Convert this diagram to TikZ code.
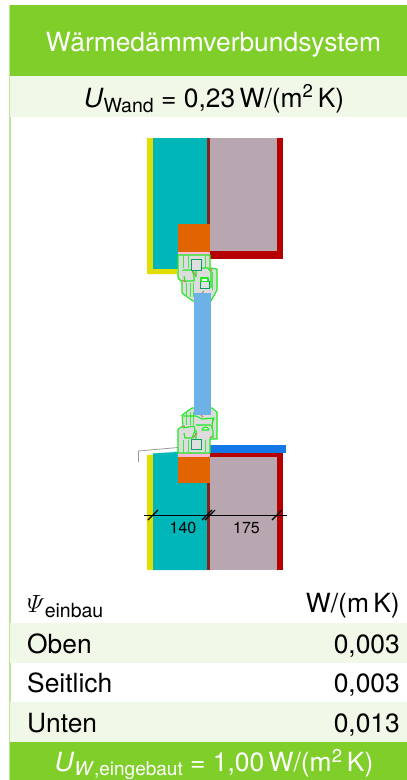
\documentclass[tikz,border=0pt]{standalone}
\usepackage{fontspec}
\usepackage{amsmath}
\setmainfont{TeX Gyre Heros}
\definecolor{hgreen}{HTML}{80CE2A}
\definecolor{pale}{HTML}{F0F8E8}
\definecolor{edge}{HTML}{BFE59A}
\definecolor{wyellow}{HTML}{E2DE00}
\definecolor{wteal}{HTML}{00B6B8}
\definecolor{wmauve}{HTML}{B8A6B0}
\definecolor{wred}{HTML}{B60000}
\definecolor{wdark}{HTML}{88221A}
\definecolor{worange}{HTML}{E26400}
\definecolor{wpink}{HTML}{FFB8DC}
\definecolor{wglass}{HTML}{6CB2E6}
\definecolor{wblue}{HTML}{1478E6}
\definecolor{fgreen}{HTML}{1CEB1C}
\definecolor{fgray}{HTML}{DCDCDC}
\tikzset{
  x=1pt,y=-1pt,
  part/.style={fill=#1,draw=none},
  frameline/.style={draw=fgreen,line width=1.1pt,fill=fgray,line join=round},
  rib/.style={draw=fgreen!80!fgray,line width=0.7pt},
  cell/.style={draw=teal!70!fgreen,line width=0.8pt,fill=fgray!90!white},
  seal/.style={draw=brown!80!gray,line width=0.9pt},
  tick/.style={draw=black,line width=1.2pt},
  titletext/.style={text=white,font=\fontsize{26.4}{26}\selectfont,inner sep=0pt},
  bodytext/.style={text=black,font=\fontsize{26.4}{26}\selectfont,inner sep=0pt},
  dimtext/.style={text=black,font=\fontsize{16}{16}\selectfont,inner sep=0pt},
}
\newcommand{\subtxt}[1]{\raisebox{-0.2em}{\fontsize{19.5}{20}\selectfont #1}}
\begin{document}
\begin{tikzpicture}
\useasboundingbox (0,0) rectangle (407,780);
\fill[white] (0,0) rectangle (407,780);
% table backgrounds
\fill[edge] (9,5) rectangle (10.5,780);
\fill[hgreen] (10,5) rectangle (407,76);
\fill[pale] (10,76) rectangle (407,117);
\fill[pale] (10,623) rectangle (407,663);
\fill[pale] (10,702) rectangle (407,742);
\fill[hgreen] (10,742) rectangle (407,780);
% upper wall
\fill[part=wyellow] (147,138) -| (153,269) -| (177,274) -| cycle;
\fill[part=wteal] (153,138) rectangle (207,224);
\fill[part=wteal] (153,224) rectangle (178,269);
\fill[part=wdark] (207,138) rectangle (210,224);
\fill[part=wmauve] (210,138) rectangle (277,251);
\fill[part=wred] (277,138) rectangle (283,259);
\fill[part=wred] (210,251) rectangle (283,259);
\fill[part=worange] (178,224) rectangle (210,252);
\fill[part=wpink] (178,252) rectangle (210,255);
% upper frame
\path[frameline] (178,255) -- (210,255) -- (210,268) -- (217,269) -- (217,290) -- (211,301) -- (193,301) -- (190,299) -- (182,293) -- (182,282) -- (178,278) -- cycle;
\foreach \x in {183,188,205} \draw[rib] (\x,255) -- (\x,268);
\foreach \x in {186,190,193} \draw[rib] (\x,283) -- (\x,297);
\draw[rib] (182,270) -- (193,270) (184,270) -- (184,280) (212,272) -- (212,290);
\draw[frameline] (183,270) -- (192,270) -- (194,276) -- (194,281) -- (185,281) -- (184,276);
\draw[frameline] (196,277) -- (196,268) -- (208,268) -- (211,272) -- (211,288);
\draw[cell] (191,259.5) rectangle (201,270);
\draw[cell] (200.5,281) rectangle (209.5,288);
\draw[frameline,fill=white] (201,278) rectangle (208,281.5);
\draw[seal] (193,271) -- (196,276) (182,280) -- (186,282) (210,268) -- (212,271) (204,291) -- (201,294);
% glass
\fill[part=wglass] (194,293) rectangle (210.5,415);
% lower wall
\fill[part=cyan!25] (148,454) -- (178,451) -- (178,453) -- (153,455) -- cycle;
\draw[gray!80,line width=0.8pt] (138.5,462) -- (138.5,451) -- (178,447.5);
\fill[part=wyellow] (147,454.5) rectangle (153,570);
\fill[part=wteal] (153,453.5) -- (178,452) -- (178,483) -- (207,483) -- (207,570) -- (153,570) -- cycle;
\fill[part=wdark] (207,483) rectangle (210,570);
\fill[part=wmauve] (210,457) rectangle (277,570);
\fill[part=wred] (277,453) rectangle (283,570);
\fill[part=wred] (210,453) rectangle (283,457);
\fill[part=wblue] (210,445) rectangle (286,453);
\fill[part=worange] (178,457) rectangle (210,483);
\fill[part=wpink] (178,453) rectangle (210,457);
% lower frame
\path[frameline] (192,408) -- (212,408) -- (217,412) -- (217,439) -- (210,439) -- (210,453) -- (178,453) -- (178,429) -- (183,426) -- (182,415) -- cycle;
\foreach \x in {183,188,205} \draw[rib] (\x,440) -- (\x,453);
\foreach \x in {186,190,193} \draw[rib] (\x,412) -- (\x,425);
\draw[rib] (212,418) -- (212,438);
\draw[frameline] (183,428) -- (194,426) -- (195,431) -- (192,438) -- (185,438) -- (184,433);
\draw[frameline] (196,430) -- (196,440) (196,425) -- (211,425) -- (213,431) -- (213,438);
\draw[frameline,fill=none] (183,416) -- (196,416) -- (202,419) -- (214,418) -- (212,424);
\draw[frameline,fill=white] (202,430) .. controls (203,426) and (208,426) .. (209,430) -- cycle;
\draw[cell] (191,439) rectangle (201,449);
\draw[seal] (197,433) -- (193,438) (182,427) -- (185,426) (210,438) -- (212,436) (200,414) -- (203,417);
\fill[part=wglass] (194,395) rectangle (210.5,415);
% dimensions
\coordinate (dimA) at (144,515);
\coordinate (dimB) at (287,515);
\draw[black,line width=0.7pt] (dimA) -- (dimB);
\foreach \x in {153,207,210,277}
  \draw[tick] (\x-5,520) -- (\x+5,510);
\node[dimtext,anchor=base] (d140) at (183,533) {140};
\node[dimtext,anchor=base] (d175) at (246.5,533) {175};
% texts
\node[titletext,anchor=base] (title) at (213.5,51) {Wärmedämmverbundsystem};
\node[bodytext,anchor=base] (uwand) at (214,107) {\textit{U}\subtxt{Wand} = 0,23\,W/(m\textsuperscript{2}\,K)};
\node[bodytext,anchor=base west] (psi) at (27,612) {$\varPsi$\subtxt{einbau}};
\node[bodytext,anchor=base east] (unit) at (400,612) {W/(m\,K)};
\node[bodytext,anchor=base west] (oben) at (27,653) {Oben};
\node[bodytext,anchor=base east] (v1) at (400,653) {0,003};
\node[bodytext,anchor=base west] (seit) at (27,692.5) {Seitlich};
\node[bodytext,anchor=base east] (v2) at (400,692.5) {0,003};
\node[bodytext,anchor=base west] (unten) at (27,732) {Unten};
\node[bodytext,anchor=base east] (v3) at (400,732) {0,013};
\node[titletext,anchor=base] (uw) at (214,771.5) {\textit{U}\raisebox{-0.16em}{\fontsize{19}{20}\selectfont\textit{W}{,}eingebaut} = 1,00\,W/(m\textsuperscript{2}\,K)};
\end{tikzpicture}
\end{document}
